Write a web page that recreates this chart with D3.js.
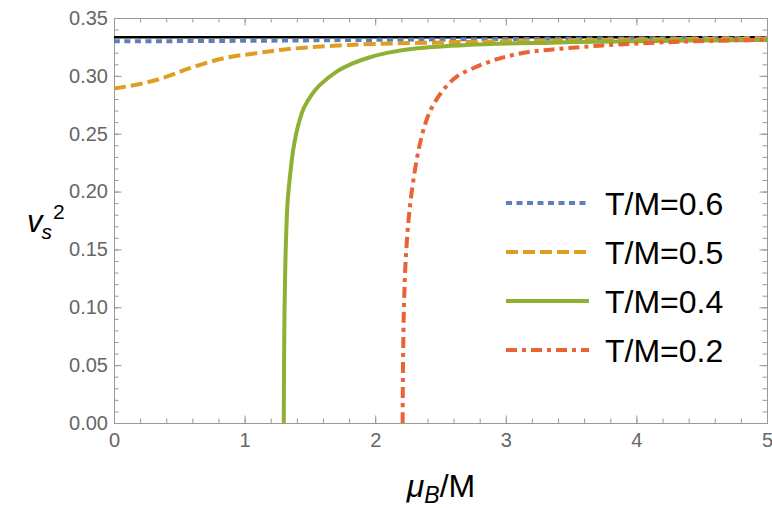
<!DOCTYPE html>
<html>
<head>
<meta charset="utf-8">
<script src="https://cdn.jsdelivr.net/npm/d3@7"></script>
<style>
  body { margin: 0; background: #fff; }
  text { font-family: "Liberation Sans", Arial, Helvetica, sans-serif; }
</style>
</head>
<body>
<div id="container"></div>
<script>
// chart data
const xTicks = [0, 1, 2, 3, 4, 5];
const yTicks = [0, 0.05, 0.10, 0.15, 0.20, 0.25, 0.30, 0.35];
const conformal = 1 / 3;

const t06 = [[0, 0.3298], [1, 0.3303], [2, 0.3311], [3, 0.3318], [4, 0.3324], [5, 0.3328]];
const t05 = [[0, 0.2890], [0.2, 0.2930], [0.33, 0.2966], [0.45, 0.3012], [0.58, 0.3066], [0.84, 0.3152],
  [1.09, 0.3196], [1.32, 0.3230], [1.8, 0.3267], [2.57, 0.3290], [3.34, 0.3304], [4, 0.3315], [5, 0.3322]];
const t04 = [[1.30, 0], [1.302, 0.05], [1.306, 0.10], [1.312, 0.138], [1.319, 0.165], [1.330, 0.192],
  [1.353, 0.219], [1.372, 0.236], [1.395, 0.250], [1.422, 0.262], [1.455, 0.2725], [1.513, 0.2836],
  [1.577, 0.2922], [1.705, 0.3037], [1.832, 0.3110], [1.960, 0.3161], [2.10, 0.3201], [2.32, 0.3238],
  [2.70, 0.3267], [3.34, 0.3287], [4, 0.3300], [5, 0.3310]];
const t02 = [[2.21, 0], [2.213, 0.05], [2.220, 0.10], [2.233, 0.14], [2.255, 0.175], [2.28, 0.200],
  [2.318, 0.2276], [2.356, 0.2477], [2.394, 0.2621], [2.445, 0.2750], [2.522, 0.2879], [2.624, 0.2994],
  [2.75, 0.3066], [2.879, 0.3124], [3.006, 0.3167], [3.16, 0.3204], [3.34, 0.3226], [3.72, 0.3261],
  [4.36, 0.3296], [5, 0.3312]];

const seriesNames = ["T/M=0.6", "T/M=0.5", "T/M=0.4", "T/M=0.2"];
const seriesData = [t06, t05, t04, t02];
const colors = ["#5E81B5", "#E19C24", "#8FB032", "#EB6235"];
const dashes = ["6,4.5", "12,5", null, "11,5,4,5"];

const width = 772;
const height = 508;
const margin = {top: 18, right: 5, bottom: 85, left: 114};

const x = d3.scaleLinear().domain([0, 5]).range([margin.left, width - margin.right]);
const y = d3.scaleLinear().domain([0, 0.35]).range([height - margin.bottom, margin.top]);

const svg = d3.create("svg")
    .attr("width", width)
    .attr("height", height);

svg.append("defs").append("clipPath")
    .attr("id", "plot")
  .append("rect")
    .attr("x", x(0))
    .attr("y", y(0.35))
    .attr("width", x(5) - x(0))
    .attr("height", y(0) - y(0.35));

const frame = "#999";
const labelColor = "#666";

// minor ticks on all sides
const xMinor = d3.range(0, 5.0001, 0.2);
const yMinor = d3.range(0, 0.35001, 0.01);

function styleAxis(g) {
  g.select(".domain").attr("stroke", frame);
  g.selectAll(".tick line").attr("stroke", frame);
  g.selectAll(".tick text").attr("fill", labelColor).attr("font-size", 20);
}

svg.append("g").attr("transform", `translate(0,${y(0)})`)
    .call(d3.axisBottom(x).tickValues(xMinor).tickSize(-4.5).tickFormat(""))
    .call(styleAxis);
svg.append("g").attr("transform", `translate(0,${y(0.35)})`)
    .call(d3.axisTop(x).tickValues(xMinor).tickSize(-4.5).tickFormat(""))
    .call(styleAxis);
svg.append("g").attr("transform", `translate(${x(0)},0)`)
    .call(d3.axisLeft(y).tickValues(yMinor).tickSize(-4.5).tickFormat(""))
    .call(styleAxis);
svg.append("g").attr("transform", `translate(${x(5)},0)`)
    .call(d3.axisRight(y).tickValues(yMinor).tickSize(-4.5).tickFormat(""))
    .call(styleAxis);

// major ticks with labels
svg.append("g").attr("transform", `translate(0,${y(0)})`)
    .call(d3.axisBottom(x).tickValues(xTicks).tickSize(-7.5).tickPadding(10).tickFormat(d3.format("d")))
    .call(styleAxis);
svg.append("g").attr("transform", `translate(0,${y(0.35)})`)
    .call(d3.axisTop(x).tickValues(xTicks).tickSize(-7.5).tickFormat(""))
    .call(styleAxis);
svg.append("g").attr("transform", `translate(${x(0)},0)`)
    .call(d3.axisLeft(y).tickValues(yTicks).tickSize(-7.5).tickPadding(6).tickFormat(d3.format(".2f")))
    .call(styleAxis);
svg.append("g").attr("transform", `translate(${x(5)},0)`)
    .call(d3.axisRight(y).tickValues(yTicks).tickSize(-7.5).tickFormat(""))
    .call(styleAxis);

const plot = svg.append("g").attr("clip-path", "url(#plot)");

// conformal limit 1/3
plot.append("line")
    .attr("x1", x(0)).attr("x2", x(5))
    .attr("y1", y(conformal)).attr("y2", y(conformal))
    .attr("stroke", "#000")
    .attr("stroke-width", 2.5);

const line = d3.line()
    .x(d => x(d[0]))
    .y(d => y(d[1]))
    .curve(d3.curveCatmullRom.alpha(0.5));

seriesData.forEach((s, i) => {
  plot.append("path")
      .attr("d", line(s))
      .attr("fill", "none")
      .attr("stroke", colors[i])
      .attr("stroke-width", 4)
      .attr("stroke-dasharray", dashes[i]);
});

// legend
const legend = svg.append("g");
seriesNames.forEach((name, i) => {
  const ly = 203 + i * 49;
  legend.append("line")
      .attr("x1", 506).attr("x2", 589)
      .attr("y1", ly).attr("y2", ly)
      .attr("stroke", colors[i])
      .attr("stroke-width", 4)
      .attr("stroke-dasharray", dashes[i]);
  legend.append("text")
      .attr("x", 605)
      .attr("y", ly + 11.5)
      .attr("font-size", 32)
      .attr("fill", "#000")
      .text(name);
});

// axis labels
const xl = svg.append("text")
    .attr("x", 441)
    .attr("y", 497)
    .attr("text-anchor", "middle")
    .attr("font-size", 32);
xl.append("tspan").attr("font-style", "italic").text("μ");
xl.append("tspan").attr("font-style", "italic").attr("font-size", 23).attr("dy", 6).text("B");
xl.append("tspan").attr("dy", -6).text("/M");

const yl = svg.append("text")
    .attr("x", 27)
    .attr("y", 232)
    .attr("font-size", 31);
yl.append("tspan").attr("font-style", "italic").text("v");
yl.append("tspan").attr("font-style", "italic").attr("font-size", 21).attr("dy", 7).attr("dx", -1).text("s");
yl.append("tspan").attr("font-size", 21).attr("dy", -20).attr("dx", 1).text("2");

container.append(svg.node());
</script>
</body>
</html>
